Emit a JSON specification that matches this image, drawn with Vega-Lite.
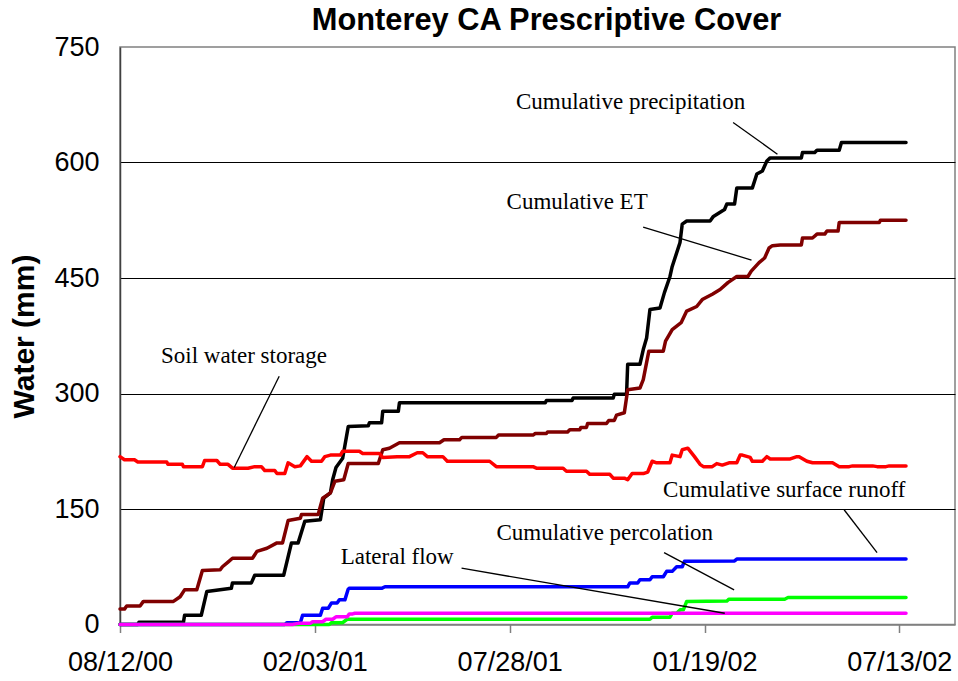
{
  "$schema": "https://vega.github.io/schema/vega-lite/v6.json",
  "width": 835,
  "height": 577.5,
  "autosize": {"type": "none"},
  "padding": {"left": 120, "top": 47, "right": 3, "bottom": 56.5},
  "background": "white",
  "title": {
    "text": "Monterey CA Prescriptive Cover",
    "font": "Liberation Sans",
    "fontSize": 30.8,
    "fontWeight": "bold",
    "color": "black",
    "anchor": "middle",
    "frame": "group",
    "baseline": "alphabetic",
    "offset": 4,
    "dx": 9,
    "dy": 32
  },
  "config": {
    "view": {"stroke": "#808080", "strokeWidth": 1.5},
    "axis": {"labelFont": "Liberation Sans", "titleFont": "Liberation Sans", "labelColor": "black", "titleColor": "black"}
  },
  "datasets": {
    "series": [
      {"series":"Cumulative precipitation","day":0,"water":0},{"series":"Cumulative precipitation","day":16,"water":0},{"series":"Cumulative precipitation","day":17,"water":3},{"series":"Cumulative precipitation","day":57,"water":3},{"series":"Cumulative precipitation","day":58,"water":12},{"series":"Cumulative precipitation","day":73,"water":12},{"series":"Cumulative precipitation","day":78,"water":43},{"series":"Cumulative precipitation","day":100,"water":47},{"series":"Cumulative precipitation","day":101,"water":54},{"series":"Cumulative precipitation","day":118,"water":54},{"series":"Cumulative precipitation","day":121,"water":64},{"series":"Cumulative precipitation","day":147,"water":64},{"series":"Cumulative precipitation","day":154,"water":106},{"series":"Cumulative precipitation","day":160,"water":106},{"series":"Cumulative precipitation","day":166,"water":134},{"series":"Cumulative precipitation","day":180,"water":136},{"series":"Cumulative precipitation","day":183,"water":164},{"series":"Cumulative precipitation","day":189,"water":171},{"series":"Cumulative precipitation","day":191,"water":188},{"series":"Cumulative precipitation","day":194,"water":204},{"series":"Cumulative precipitation","day":200,"water":216},{"series":"Cumulative precipitation","day":205,"water":257},{"series":"Cumulative precipitation","day":223,"water":258},{"series":"Cumulative precipitation","day":224,"water":262},{"series":"Cumulative precipitation","day":235,"water":262},{"series":"Cumulative precipitation","day":236,"water":277},{"series":"Cumulative precipitation","day":250,"water":277},{"series":"Cumulative precipitation","day":251,"water":288},{"series":"Cumulative precipitation","day":382,"water":288},{"series":"Cumulative precipitation","day":383,"water":291},{"series":"Cumulative precipitation","day":406,"water":291},{"series":"Cumulative precipitation","day":407,"water":294},{"series":"Cumulative precipitation","day":443,"water":294},{"series":"Cumulative precipitation","day":444,"water":299},{"series":"Cumulative precipitation","day":455,"water":299},{"series":"Cumulative precipitation","day":456,"water":338},{"series":"Cumulative precipitation","day":467,"water":338},{"series":"Cumulative precipitation","day":470,"water":357},{"series":"Cumulative precipitation","day":473,"water":372},{"series":"Cumulative precipitation","day":476,"water":409},{"series":"Cumulative precipitation","day":485,"water":411},{"series":"Cumulative precipitation","day":489,"water":431},{"series":"Cumulative precipitation","day":494,"water":452},{"series":"Cumulative precipitation","day":496,"water":465},{"series":"Cumulative precipitation","day":503,"water":496},{"series":"Cumulative precipitation","day":505,"water":520},{"series":"Cumulative precipitation","day":509,"water":524},{"series":"Cumulative precipitation","day":530,"water":524},{"series":"Cumulative precipitation","day":533,"water":530},{"series":"Cumulative precipitation","day":543,"water":539},{"series":"Cumulative precipitation","day":545,"water":546},{"series":"Cumulative precipitation","day":552,"water":546},{"series":"Cumulative precipitation","day":554,"water":567},{"series":"Cumulative precipitation","day":568,"water":567},{"series":"Cumulative precipitation","day":572,"water":585},{"series":"Cumulative precipitation","day":577,"water":589},{"series":"Cumulative precipitation","day":581,"water":602},{"series":"Cumulative precipitation","day":584,"water":606},{"series":"Cumulative precipitation","day":612,"water":606},{"series":"Cumulative precipitation","day":613,"water":613},{"series":"Cumulative precipitation","day":624,"water":613},{"series":"Cumulative precipitation","day":626,"water":616},{"series":"Cumulative precipitation","day":646,"water":616},{"series":"Cumulative precipitation","day":648,"water":626},{"series":"Cumulative precipitation","day":706,"water":626},

      {"series":"Cumulative ET","day":0,"water":20},{"series":"Cumulative ET","day":4,"water":20},{"series":"Cumulative ET","day":6,"water":24},{"series":"Cumulative ET","day":18,"water":24},{"series":"Cumulative ET","day":21,"water":30},{"series":"Cumulative ET","day":48,"water":30},{"series":"Cumulative ET","day":54,"water":36},{"series":"Cumulative ET","day":58,"water":45},{"series":"Cumulative ET","day":69,"water":45},{"series":"Cumulative ET","day":74,"water":70},{"series":"Cumulative ET","day":90,"water":71},{"series":"Cumulative ET","day":92,"water":75},{"series":"Cumulative ET","day":97,"water":81},{"series":"Cumulative ET","day":101,"water":86},{"series":"Cumulative ET","day":119,"water":86},{"series":"Cumulative ET","day":123,"water":95},{"series":"Cumulative ET","day":132,"water":99},{"series":"Cumulative ET","day":141,"water":106},{"series":"Cumulative ET","day":146,"water":106},{"series":"Cumulative ET","day":151,"water":135},{"series":"Cumulative ET","day":162,"water":138},{"series":"Cumulative ET","day":163,"water":143},{"series":"Cumulative ET","day":178,"water":143},{"series":"Cumulative ET","day":182,"water":164},{"series":"Cumulative ET","day":189,"water":171},{"series":"Cumulative ET","day":193,"water":186},{"series":"Cumulative ET","day":201,"water":188},{"series":"Cumulative ET","day":205,"water":209},{"series":"Cumulative ET","day":232,"water":209},{"series":"Cumulative ET","day":236,"water":227},{"series":"Cumulative ET","day":242,"water":229},{"series":"Cumulative ET","day":251,"water":236},{"series":"Cumulative ET","day":287,"water":236},{"series":"Cumulative ET","day":291,"water":240},{"series":"Cumulative ET","day":305,"water":240},{"series":"Cumulative ET","day":307,"water":243},{"series":"Cumulative ET","day":338,"water":243},{"series":"Cumulative ET","day":340,"water":246},{"series":"Cumulative ET","day":371,"water":246},{"series":"Cumulative ET","day":373,"water":248},{"series":"Cumulative ET","day":383,"water":248},{"series":"Cumulative ET","day":384,"water":250},{"series":"Cumulative ET","day":402,"water":250},{"series":"Cumulative ET","day":404,"water":253},{"series":"Cumulative ET","day":413,"water":253},{"series":"Cumulative ET","day":414,"water":256},{"series":"Cumulative ET","day":419,"water":256},{"series":"Cumulative ET","day":420,"water":261},{"series":"Cumulative ET","day":437,"water":261},{"series":"Cumulative ET","day":439,"water":265},{"series":"Cumulative ET","day":444,"water":265},{"series":"Cumulative ET","day":446,"water":272},{"series":"Cumulative ET","day":453,"water":275},{"series":"Cumulative ET","day":456,"water":305},{"series":"Cumulative ET","day":467,"water":307},{"series":"Cumulative ET","day":470,"water":318},{"series":"Cumulative ET","day":475,"water":355},{"series":"Cumulative ET","day":488,"water":355},{"series":"Cumulative ET","day":490,"water":368},{"series":"Cumulative ET","day":496,"water":383},{"series":"Cumulative ET","day":504,"water":392},{"series":"Cumulative ET","day":509,"water":407},{"series":"Cumulative ET","day":518,"water":413},{"series":"Cumulative ET","day":523,"water":422},{"series":"Cumulative ET","day":532,"water":429},{"series":"Cumulative ET","day":539,"water":435},{"series":"Cumulative ET","day":546,"water":444},{"series":"Cumulative ET","day":554,"water":452},{"series":"Cumulative ET","day":564,"water":452},{"series":"Cumulative ET","day":567,"water":459},{"series":"Cumulative ET","day":574,"water":470},{"series":"Cumulative ET","day":579,"water":476},{"series":"Cumulative ET","day":583,"water":489},{"series":"Cumulative ET","day":586,"water":492},{"series":"Cumulative ET","day":593,"water":493},{"series":"Cumulative ET","day":612,"water":493},{"series":"Cumulative ET","day":613,"water":502},{"series":"Cumulative ET","day":622,"water":502},{"series":"Cumulative ET","day":626,"water":507},{"series":"Cumulative ET","day":633,"water":507},{"series":"Cumulative ET","day":635,"water":511},{"series":"Cumulative ET","day":645,"water":511},{"series":"Cumulative ET","day":646,"water":522},{"series":"Cumulative ET","day":682,"water":522},{"series":"Cumulative ET","day":683,"water":525},{"series":"Cumulative ET","day":706,"water":525},

      {"series":"Soil water storage","day":0,"water":218},{"series":"Soil water storage","day":4,"water":214},{"series":"Soil water storage","day":13,"water":214},{"series":"Soil water storage","day":16,"water":211},{"series":"Soil water storage","day":42,"water":211},{"series":"Soil water storage","day":43,"water":208},{"series":"Soil water storage","day":56,"water":208},{"series":"Soil water storage","day":57,"water":205},{"series":"Soil water storage","day":74,"water":205},{"series":"Soil water storage","day":76,"water":213},{"series":"Soil water storage","day":87,"water":213},{"series":"Soil water storage","day":90,"water":208},{"series":"Soil water storage","day":97,"water":208},{"series":"Soil water storage","day":101,"water":203},{"series":"Soil water storage","day":115,"water":203},{"series":"Soil water storage","day":121,"water":205},{"series":"Soil water storage","day":127,"water":205},{"series":"Soil water storage","day":130,"water":200},{"series":"Soil water storage","day":139,"water":200},{"series":"Soil water storage","day":141,"water":196},{"series":"Soil water storage","day":148,"water":196},{"series":"Soil water storage","day":151,"water":210},{"series":"Soil water storage","day":157,"water":205},{"series":"Soil water storage","day":162,"water":206},{"series":"Soil water storage","day":168,"water":218},{"series":"Soil water storage","day":172,"water":212},{"series":"Soil water storage","day":181,"water":212},{"series":"Soil water storage","day":184,"water":218},{"series":"Soil water storage","day":189,"water":220},{"series":"Soil water storage","day":198,"water":220},{"series":"Soil water storage","day":200,"water":225},{"series":"Soil water storage","day":215,"water":225},{"series":"Soil water storage","day":218,"water":222},{"series":"Soil water storage","day":233,"water":222},{"series":"Soil water storage","day":236,"water":217},{"series":"Soil water storage","day":249,"water":218},{"series":"Soil water storage","day":260,"water":218},{"series":"Soil water storage","day":267,"water":223},{"series":"Soil water storage","day":272,"water":223},{"series":"Soil water storage","day":276,"water":218},{"series":"Soil water storage","day":290,"water":218},{"series":"Soil water storage","day":294,"water":212},{"series":"Soil water storage","day":332,"water":212},{"series":"Soil water storage","day":338,"water":205},{"series":"Soil water storage","day":371,"water":205},{"series":"Soil water storage","day":374,"water":203},{"series":"Soil water storage","day":398,"water":203},{"series":"Soil water storage","day":401,"water":199},{"series":"Soil water storage","day":419,"water":199},{"series":"Soil water storage","day":422,"water":195},{"series":"Soil water storage","day":440,"water":195},{"series":"Soil water storage","day":443,"water":190},{"series":"Soil water storage","day":453,"water":190},{"series":"Soil water storage","day":456,"water":188},{"series":"Soil water storage","day":460,"water":196},{"series":"Soil water storage","day":470,"water":196},{"series":"Soil water storage","day":474,"water":198},{"series":"Soil water storage","day":478,"water":212},{"series":"Soil water storage","day":482,"water":210},{"series":"Soil water storage","day":494,"water":210},{"series":"Soil water storage","day":496,"water":220},{"series":"Soil water storage","day":503,"water":218},{"series":"Soil water storage","day":505,"water":227},{"series":"Soil water storage","day":510,"water":229},{"series":"Soil water storage","day":516,"water":218},{"series":"Soil water storage","day":521,"water":208},{"series":"Soil water storage","day":524,"water":205},{"series":"Soil water storage","day":532,"water":205},{"series":"Soil water storage","day":536,"water":209},{"series":"Soil water storage","day":541,"water":207},{"series":"Soil water storage","day":547,"water":210},{"series":"Soil water storage","day":554,"water":210},{"series":"Soil water storage","day":557,"water":220},{"series":"Soil water storage","day":559,"water":220},{"series":"Soil water storage","day":566,"water":217},{"series":"Soil water storage","day":568,"water":212},{"series":"Soil water storage","day":577,"water":212},{"series":"Soil water storage","day":581,"water":218},{"series":"Soil water storage","day":584,"water":215},{"series":"Soil water storage","day":602,"water":215},{"series":"Soil water storage","day":608,"water":218},{"series":"Soil water storage","day":610,"water":218},{"series":"Soil water storage","day":617,"water":212},{"series":"Soil water storage","day":622,"water":210},{"series":"Soil water storage","day":640,"water":210},{"series":"Soil water storage","day":646,"water":205},{"series":"Soil water storage","day":655,"water":205},{"series":"Soil water storage","day":658,"water":206},{"series":"Soil water storage","day":676,"water":206},{"series":"Soil water storage","day":680,"water":205},{"series":"Soil water storage","day":688,"water":205},{"series":"Soil water storage","day":691,"water":206},{"series":"Soil water storage","day":706,"water":206},

      {"series":"Cumulative surface runoff","day":0,"water":0},{"series":"Cumulative surface runoff","day":148,"water":0},{"series":"Cumulative surface runoff","day":150,"water":2.4},{"series":"Cumulative surface runoff","day":162,"water":2.4},{"series":"Cumulative surface runoff","day":164,"water":12},{"series":"Cumulative surface runoff","day":180,"water":12},{"series":"Cumulative surface runoff","day":182,"water":21},{"series":"Cumulative surface runoff","day":187,"water":21},{"series":"Cumulative surface runoff","day":190,"water":28},{"series":"Cumulative surface runoff","day":195,"water":28},{"series":"Cumulative surface runoff","day":197,"water":32},{"series":"Cumulative surface runoff","day":202,"water":32},{"series":"Cumulative surface runoff","day":205,"water":46},{"series":"Cumulative surface runoff","day":206,"water":47},{"series":"Cumulative surface runoff","day":235,"water":47},{"series":"Cumulative surface runoff","day":238,"water":49},{"series":"Cumulative surface runoff","day":456,"water":49},{"series":"Cumulative surface runoff","day":458,"water":54},{"series":"Cumulative surface runoff","day":465,"water":54},{"series":"Cumulative surface runoff","day":467,"water":58},{"series":"Cumulative surface runoff","day":476,"water":58},{"series":"Cumulative surface runoff","day":478,"water":62},{"series":"Cumulative surface runoff","day":488,"water":62},{"series":"Cumulative surface runoff","day":491,"water":69},{"series":"Cumulative surface runoff","day":496,"water":69},{"series":"Cumulative surface runoff","day":500,"water":75},{"series":"Cumulative surface runoff","day":505,"water":75},{"series":"Cumulative surface runoff","day":507,"water":82},{"series":"Cumulative surface runoff","day":552,"water":82.6},{"series":"Cumulative surface runoff","day":554,"water":85},{"series":"Cumulative surface runoff","day":706,"water":85},

      {"series":"Cumulative percolation","day":0,"water":0},{"series":"Cumulative percolation","day":188,"water":0},{"series":"Cumulative percolation","day":190,"water":2.4},{"series":"Cumulative percolation","day":200,"water":2.4},{"series":"Cumulative percolation","day":204,"water":6.8},{"series":"Cumulative percolation","day":476,"water":6.8},{"series":"Cumulative percolation","day":478,"water":9.4},{"series":"Cumulative percolation","day":494,"water":9.4},{"series":"Cumulative percolation","day":496,"water":14.6},{"series":"Cumulative percolation","day":500,"water":14.6},{"series":"Cumulative percolation","day":503,"water":19},{"series":"Cumulative percolation","day":506,"water":19},{"series":"Cumulative percolation","day":509,"water":30},{"series":"Cumulative percolation","day":545,"water":30.5},{"series":"Cumulative percolation","day":547,"water":32.8},{"series":"Cumulative percolation","day":597,"water":32.8},{"series":"Cumulative percolation","day":600,"water":35},{"series":"Cumulative percolation","day":706,"water":35},

      {"series":"Lateral flow","day":0,"water":0},{"series":"Lateral flow","day":155,"water":0},{"series":"Lateral flow","day":160,"water":1.5},{"series":"Lateral flow","day":171,"water":1.5},{"series":"Lateral flow","day":173,"water":3.6},{"series":"Lateral flow","day":182,"water":3.6},{"series":"Lateral flow","day":185,"water":6.8},{"series":"Lateral flow","day":191,"water":6.8},{"series":"Lateral flow","day":194,"water":10},{"series":"Lateral flow","day":204,"water":10},{"series":"Lateral flow","day":206,"water":13.7},{"series":"Lateral flow","day":209,"water":13.7},{"series":"Lateral flow","day":211,"water":14.6},{"series":"Lateral flow","day":706,"water":14.6}
    ],
    "leaders": [
      {"label":"Cumulative precipitation","day":550.7,"water":652,"day2":590.5,"water2":610.8},
      {"label":"Cumulative ET","day":469.9,"water":516.2,"day2":567.2,"water2":473.3},
      {"label":"Soil water storage","day":143,"water":322.4,"day2":102.6,"water2":204},
      {"label":"Lateral flow","day":306.8,"water":73.1,"day2":543.2,"water2":14.6},
      {"label":"Cumulative percolation","day":488.7,"water":93.4,"day2":551.6,"water2":44.9},
      {"label":"Cumulative surface runoff","day":650.4,"water":149,"day2":680,"water2":93.4}
    ],
    "labels": [
      {"label":"Cumulative precipitation","day":355.6,"water":669.3},
      {"label":"Cumulative ET","day":347.2,"water":539.2},
      {"label":"Soil water storage","day":36.8,"water":339.8},
      {"label":"Lateral flow","day":198.2,"water":78.7},
      {"label":"Cumulative percolation","day":338.2,"water":109.9},
      {"label":"Cumulative surface runoff","day":487.8,"water":165}
    ]
  },
  "encoding": {
    "x": {
      "field": "day",
      "type": "quantitative",
      "scale": {"domain": [0, 750], "nice": false, "zero": false},
      "axis": {
        "title": null,
        "values": [0, 175, 350, 525, 700],
        "labelExpr": "timeFormat(datetime(2000, 7, 12 + datum.value), '%m/%d/%y')",
        "grid": false,
        "domainColor": "#808080",
        "domainWidth": 1.5,
        "tickColor": "#808080",
        "tickWidth": 1.5,
        "tickSize": 8,
        "labelFontSize": 27,
        "labelPadding": 17,
        "labelFlush": false,
        "labelOverlap": false
      }
    },
    "y": {
      "field": "water",
      "type": "quantitative",
      "scale": {"domain": [0, 750], "nice": false},
      "axis": {
        "title": "Water (mm)",
        "titleFontSize": 30,
        "titleFontWeight": "bold",
        "titleAngle": 270,
        "titleBaseline": "alphabetic",
        "titleAlign": "center",
        "titleX": -87,
        "titleY": 289,
        "values": [0, 150, 300, 450, 600, 750],
        "grid": true,
        "gridColor": {"condition": {"test": "datum.value == 750 || datum.value == 0", "value": "transparent"}, "value": "#000000"},
        "gridWidth": 1,
        "ticks": false,
        "tickSize": 0,
        "domainColor": "#404040",
        "domainWidth": 1.5,
        "labelFontSize": 27,
        "labelPadding": 21,
        "labelOverlap": false
      }
    }
  },
  "layer": [
    {
      "data": {"name": "series"},
      "mark": {"type": "line", "strokeWidth": 3.5, "strokeCap": "round", "strokeJoin": "round"},
      "encoding": {
        "color": {
          "field": "series",
          "type": "nominal",
          "legend": null,
          "scale": {
            "domain": ["Cumulative precipitation", "Cumulative ET", "Soil water storage", "Cumulative surface runoff", "Cumulative percolation", "Lateral flow"],
            "range": ["#000000", "#800000", "#ff0000", "#0000ff", "#00ff00", "#ff00ff"]
          }
        }
      }
    },
    {
      "data": {"name": "leaders"},
      "mark": {"type": "rule", "color": "black", "strokeWidth": 1.3},
      "encoding": {
        "x2": {"field": "day2"},
        "y2": {"field": "water2"}
      }
    },
    {
      "data": {"name": "labels"},
      "mark": {"type": "text", "font": "Liberation Serif", "fontSize": 23, "align": "left", "baseline": "alphabetic", "color": "black"},
      "encoding": {
        "text": {"field": "label"}
      }
    }
  ]
}
